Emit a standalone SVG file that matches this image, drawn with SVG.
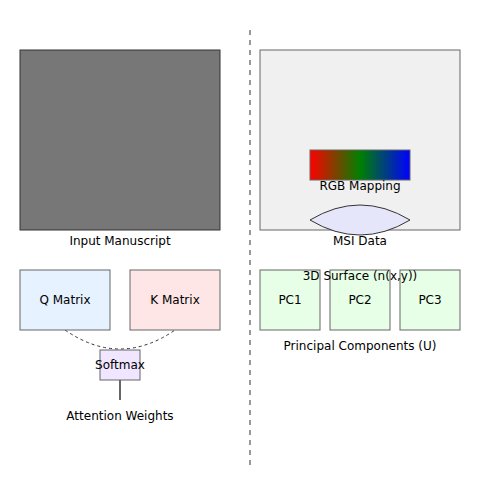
<svg xmlns="http://www.w3.org/2000/svg" width="500" height="500" viewBox="0 0 500 500">
<style>
text{font-family:"DejaVu Sans",sans-serif;font-size:12px;fill:#000;text-anchor:middle}
.box{stroke:#666;stroke-width:1}
</style>
<defs>
<linearGradient id="rgb" x1="0" y1="0" x2="1" y2="0">
<stop offset="0" stop-color="#ff0000"/>
<stop offset="0.5" stop-color="#008000"/>
<stop offset="1" stop-color="#0000ff"/>
</linearGradient>
</defs>
<rect width="500" height="500" fill="#fff"/>
<g id="connectors">
<line x1="250" y1="30" x2="250" y2="465" stroke="#999" stroke-width="2" stroke-dasharray="5,5"/>
<path d="M65,330 Q120,368 175,330" fill="none" stroke="#333" stroke-dasharray="3,3"/>
<line x1="120" y1="380" x2="120" y2="400" stroke="#666" stroke-width="2"/>
</g>
<g id="input">
<rect x="20" y="50" width="200" height="180" fill="#777" stroke="#333"/>
<text x="120" y="245">Input Manuscript</text>
</g>
<g id="msi">
<rect class="box" x="260" y="50" width="200" height="180" fill="#f0f0f0"/>
<text x="360" y="245">MSI Data</text>
</g>
<g id="rgb-mapping">
<rect class="box" x="310" y="150" width="100" height="30" fill="url(#rgb)"/>
<text x="360" y="190">RGB Mapping</text>
</g>
<g id="surface">
<path d="M310,220 Q360,190 410,220 Q360,250 310,220 Z" fill="#e6e6fa" stroke="#333" stroke-width="1"/>
</g>
<g id="q">
<rect class="box" x="20" y="270" width="90" height="60" fill="#e6f2ff"/>
<text x="65" y="304">Q Matrix</text>
</g>
<g id="k">
<rect class="box" x="130" y="270" width="90" height="60" fill="#ffe6e6"/>
<text x="175" y="304">K Matrix</text>
</g>
<g id="softmax">
<rect class="box" x="100" y="350" width="40" height="30" fill="#f0e6ff"/>
<text x="120" y="369">Softmax</text>
<text x="120" y="420">Attention Weights</text>
</g>
<g id="pc1">
<rect class="box" x="260" y="270" width="60" height="60" fill="#e6ffe6"/>
<text x="290" y="304">PC1</text>
</g>
<g id="pc2">
<rect class="box" x="330" y="270" width="60" height="60" fill="#e6ffe6"/>
<text x="360" y="304">PC2</text>
</g>
<g id="pc3">
<rect class="box" x="400" y="270" width="60" height="60" fill="#e6ffe6"/>
<text x="430" y="304">PC3</text>
</g>
<text x="360" y="280">3D Surface (n(x,y))</text>
<text x="360" y="350">Principal Components (U)</text>
</svg>
